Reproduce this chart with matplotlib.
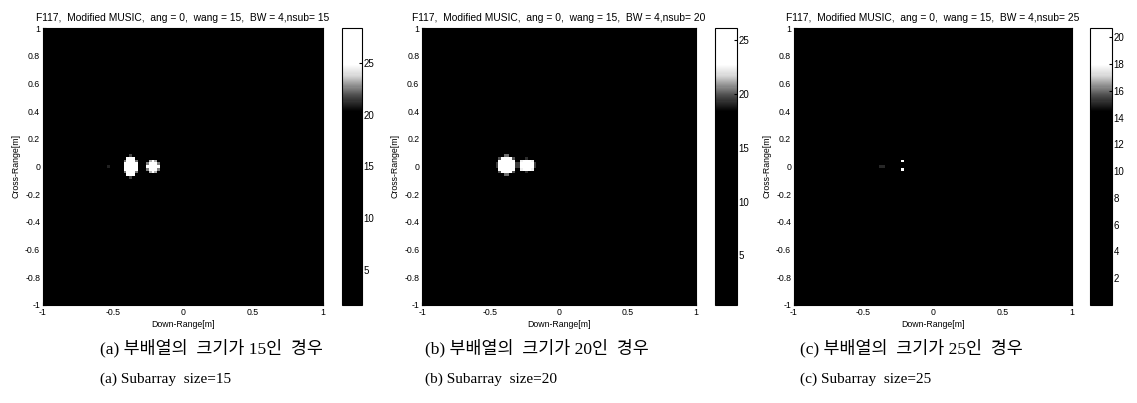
#!/usr/bin/env python3
import matplotlib
matplotlib.use("Agg")
import matplotlib.pyplot as plt
import numpy as np
from matplotlib.colors import LinearSegmentedColormap

plt.rcParams["font.family"] = ["Liberation Sans", "DejaVu Sans"]
plt.rcParams["axes.unicode_minus"] = False

# grid of the pseudo-spectrum (down-range x, cross-range y), metres
range_x = [-1.0, 1.0]
range_y = [-1.0, 1.0]
n_cells = 101

# per panel: subarray size, colour limits, colorbar ticks
nsub = [15, 20, 25]
clim_lo = [1.6, 0.4, 0.0]
clim_hi = [28.4, 26.1, 20.7]
cbar_ticks = [[5, 10, 15, 20, 25], [5, 10, 15, 20, 25], [2, 4, 6, 8, 10, 12, 14, 16, 18, 20]]
floor_db = [2.0, 1.0, 0.5]

# peaks: x, y, peak level, spread x, spread y
peak_x = [[-0.38, -0.22, -0.54], [-0.39, -0.24, -0.55], [-0.22, -0.22, -0.37]]
peak_y = [[0.00, 0.00, 0.0], [0.01, 0.01, 0.0], [0.035, -0.015, 0.0]]
peak_lvl = [[40.0, 40.0, 21.0], [38.0, 38.0, 20.0], [24.0, 24.0, 17.0]]
peak_sx = [[0.042, 0.04, 0.008], [0.06, 0.052, 0.006], [0.012, 0.011, 0.02]]
peak_sy = [[0.07, 0.042, 0.025], [0.062, 0.042, 0.01], [0.01, 0.011, 0.008]]

xtick_vals = [-1, -0.5, 0, 0.5, 1]
xtick_lbls = ["-1", "-0.5", "0", "0.5", "1"]
ytick_vals = [1, 0.8, 0.6, 0.4, 0.2, 0, -0.2, -0.4, -0.6, -0.8, -1]
ytick_lbls = ["1", "0.8", "0.6", "0.4", "0.2", "0", "-0.2", "-0.4", "-0.6", "-0.8", "-1"]

captions_kr = ["(a) 부배열의  크기가 15인  경우", "(b) 부배열의  크기가 20인  경우", "(c) 부배열의  크기가 25인  경우"]
captions_en = ["(a) Subarray  size=15", "(b) Subarray  size=20", "(c) Subarray  size=25"]

# layout in figure fractions
ax_left = [0.0378, 0.3712, 0.6983]
ax_width = [0.2463, 0.2410, 0.2445]
cb_left = [0.3008, 0.6289, 0.9587]
cb_width = [0.0176, 0.0193, 0.0193]
cap_x = [0.088, 0.374, 0.704]
bottom, height = 0.2432, 0.6873

cmap = LinearSegmentedColormap.from_list(
    "scan_gray", [(0, "black"), (0.70, "black"), (0.76, "#505050"), (0.83, "#d8d8d8"),
                  (0.87, "white"), (1, "white")])

fig = plt.figure(figsize=(11.37, 4.03), dpi=100)
xs = np.linspace(range_x[0], range_x[1], n_cells)
ys = np.linspace(range_y[0], range_y[1], n_cells)
X, Y = np.meshgrid(xs, ys)

for i in range(3):
    img = np.full_like(X, floor_db[i])
    for px, py, lv, sx, sy in zip(peak_x[i], peak_y[i], peak_lvl[i], peak_sx[i], peak_sy[i]):
        img = np.maximum(img, floor_db[i] + (lv - floor_db[i]) *
                         np.exp(-((X - px) ** 2 / (2 * sx ** 2) + (Y - py) ** 2 / (2 * sy ** 2))))
    img = np.minimum(img, clim_hi[i])

    ax = fig.add_axes([ax_left[i], bottom, ax_width[i], height])
    im = ax.imshow(img, origin="lower", extent=[range_x[0], range_x[1], range_y[0], range_y[1]],
                   cmap=cmap, vmin=clim_lo[i], vmax=clim_hi[i], aspect="auto", interpolation="nearest")
    ax.set_xticks(xtick_vals)
    ax.set_xticklabels(xtick_lbls)
    ax.set_yticks(ytick_vals)
    ax.set_yticklabels(ytick_lbls)
    ax.tick_params(direction="in", length=2, labelsize=6.3, pad=2)
    ax.set_xlabel("Down-Range[m]", fontsize=6.3, labelpad=2)
    ax.set_ylabel("Cross-Range[m]", fontsize=6.3, labelpad=3)
    ax.set_title(f"F117,  Modified MUSIC,  ang = 0,  wang = 15,  BW = 4,nsub= {nsub[i]}",
                 fontsize=7.4, pad=5)

    cax = fig.add_axes([cb_left[i], bottom, cb_width[i], height])
    cb = fig.colorbar(im, cax=cax)
    cb.set_ticks(cbar_ticks[i])
    cb.ax.tick_params(direction="in", length=2, labelsize=7, pad=1)
    cb.outline.set_linewidth(0.8)

    fig.text(cap_x[i], 0.136, captions_kr[i], fontsize=12.5,
             family=["Liberation Serif", "Noto Sans CJK KR"], va="center")
    fig.text(cap_x[i], 0.060, captions_en[i], fontsize=11,
             family=["Liberation Serif", "Noto Sans CJK KR"], va="center")

fig.savefig("out.png", dpi=100)
